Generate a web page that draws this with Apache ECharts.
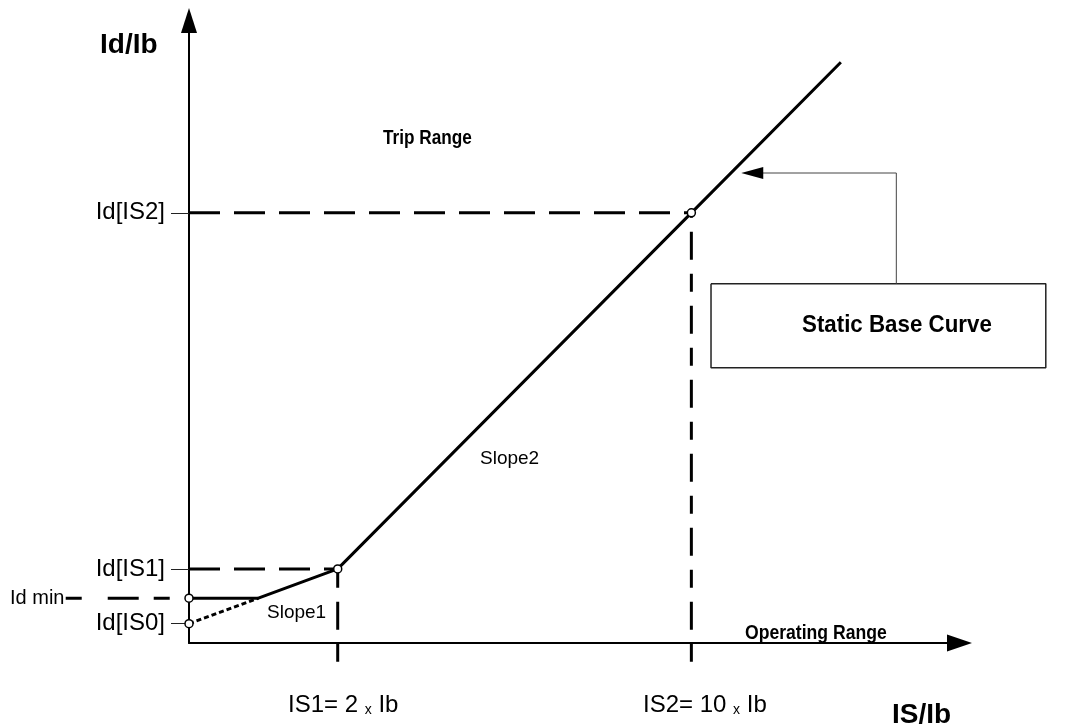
<!DOCTYPE html>
<html><head><meta charset="utf-8">
<script src="https://cdn.jsdelivr.net/npm/echarts@6/dist/echarts.min.js"></script>
<style>html,body{margin:0;padding:0;background:#fff}#c{width:1071px;height:726px}</style>
</head><body><div id="c"></div>
<script>
const FONT = '"Liberation Sans", Arial, sans-serif';
// Schematic values (linear schematic units along IS/Ib and Id/Ib)
const isPoints = [19.3, 65.2];                 // IS1, IS2
const isLabels = ['IS1= 2 ', 'IS2= 10 '];
const idLevels = [3.1, 11.9, 69.1];            // Id[IS0], Id[IS1], Id[IS2]
const idLabels = ['Id[IS0]', 'Id[IS1]', 'Id[IS2]'];
const idMin = 7.2;
const curveX = [0, 9.0, 19.3, 65.2, 84.6];     // static base curve
const curveY = [7.2, 7.2, 11.9, 69.1, 93.3];
const extX = [0, 9.0];                          // slope1 extension (dotted)
const extY = [3.1, 7.2];
const idMinLeadX = [-16, 0];
const dropBottom = -3;
const boxX = [67.75, 111.2];
const boxY = [44.2, 57.7];
const pointerX = [91.8, 91.8, 73.1];
const pointerY = [57.7, 75.5, 75.5];

// axis ranges: visible axes and an identical-scale overlay with a wider range
const X0 = [0, 100], Y0 = [0, 100];
const X1 = [-20, 112], Y1 = [-5, 100];
const PX = {left:189, width:770.5, bottom:643, height:622.5};
const kx = PX.width / (X0[1] - X0[0]), ky = PX.height / (Y0[1] - Y0[0]);
const g1 = {
  left: PX.left + (X1[0] - X0[0]) * kx,
  right: 1071 - (PX.left + (X1[1] - X0[0]) * kx),
  top: PX.bottom - (Y1[1] - Y0[0]) * ky,
  bottom: 726 - (PX.bottom - (Y1[0] - Y0[0]) * ky)
};

const zip = (xs, ys) => xs.map((x, i) => [x, ys[i]]);
const black = '#000';
const series = [];
const base = {xAxisIndex:1, yAxisIndex:1, silent:true};

isPoints.forEach((xv, i) => {
  const yv = idLevels[i + 1];
  series.push(Object.assign({type:'line', data:[[0, yv],[xv, yv]], symbol:'none',
    lineStyle:{color:black, width:3, type:[31,14]}, z:2}, base));
  series.push(Object.assign({type:'line', data:[[xv, dropBottom],[xv, yv]], symbol:'none',
    lineStyle:{color:black, width:3, type:[18,14,28,14]}, z:2}, base));
});
series.push(Object.assign({type:'line', data:idMinLeadX.map(x => [x, idMin]), symbol:'none',
  lineStyle:{color:black, width:3, type:[16,26,31,15]}, z:2}, base));
series.push(Object.assign({type:'line', data:zip(extX, extY), symbol:'none',
  lineStyle:{color:black, width:3, type:[5,3]}, z:3}, base));
series.push(Object.assign({type:'line', data:zip(curveX, curveY), symbol:'none',
  lineStyle:{color:black, width:3}, z:4}, base));
series.push(Object.assign({type:'scatter',
  data:[[0, idMin],[0, idLevels[0]],[isPoints[0], idLevels[1]],[isPoints[1], idLevels[2]]],
  symbol:'circle', symbolSize:8,
  itemStyle:{color:'#fff', borderColor:black, borderWidth:1.5, opacity:1}, z:10}, base));
series.push(Object.assign({type:'line',
  data:[[boxX[0],boxY[1]],[boxX[1],boxY[1]],[boxX[1],boxY[0]],[boxX[0],boxY[0]],[boxX[0],boxY[1]]],
  symbol:'none', lineStyle:{color:'#222', width:1.5}, z:3}, base));
series.push(Object.assign({type:'line', z:3,
  data: zip(pointerX, pointerY).map((p, i) => i === pointerX.length - 1
    ? {value:p, symbol:'triangle', symbolSize:[12,22], symbolRotate:90}
    : {value:p, symbol:'none'}),
  showSymbol:true, itemStyle:{color:black, opacity:1},
  lineStyle:{color:'#444', width:1}}, base));

const txt = (text, x, y, size, bold, sx) => ({type:'text', x, y, scaleX: sx || 1, silent:true,
  style:{text, fill:'#000', font:(bold?'bold ':'') + size + 'px ' + FONT, align:'left', verticalAlign:'middle'}});
const isText = (i, x) => ({type:'text', x, y:703, silent:true,
  style:{text:'{a|' + isLabels[i] + '}{s|x}{a| Ib}', align:'left', verticalAlign:'middle',
    rich:{a:{fontSize:24, fontFamily:FONT, fill:'#000', color:'#000', lineHeight:28, verticalAlign:'bottom'},
          s:{fontSize:14, fontFamily:FONT, fill:'#000', color:'#000', lineHeight:22, verticalAlign:'bottom'}}}});

const hiddenAxis = {type:'value', show:false, splitLine:{show:false}, axisLine:{show:false},
  axisTick:{show:false}, axisLabel:{show:false}};

const option = {
  animation:false,
  backgroundColor:'#fff',
  grid:[
    {left:PX.left, right:1071 - PX.left - PX.width, top:PX.bottom - PX.height, bottom:726 - PX.bottom,
     outerBoundsMode:'none', containLabel:false},
    {left:g1.left, right:g1.right, top:g1.top, bottom:g1.bottom, outerBoundsMode:'none', containLabel:false}
  ],
  xAxis:[
    {type:'value', gridIndex:0, min:X0[0], max:X0[1], splitLine:{show:false},
     axisLine:{show:true, onZero:false, lineStyle:{color:black, width:2}, symbol:['none','triangle'], symbolSize:[17,25]},
     axisTick:{show:false}, axisLabel:{show:false}},
    Object.assign({gridIndex:1, min:X1[0], max:X1[1]}, hiddenAxis)
  ],
  yAxis:[
    {type:'value', gridIndex:0, min:Y0[0], max:Y0[1], splitLine:{show:false},
     axisLine:{show:true, onZero:false, lineStyle:{color:black, width:2}, symbol:['none','triangle'], symbolSize:[16,25]},
     axisTick:{show:true, customValues:idLevels, length:18, lineStyle:{color:'#222', width:1}},
     axisLabel:{show:true, customValues:idLevels, margin:24, fontSize:24, color:'#000', fontFamily:FONT,
       formatter: v => { const k = idLevels.findIndex(l => Math.abs(l - v) < 1e-6); return k >= 0 ? idLabels[k] : ''; }}},
    Object.assign({gridIndex:1, min:Y1[0], max:Y1[1]}, hiddenAxis)
  ],
  series,
  graphic:[
    txt('Id/Ib', 100, 45, 28, true),
    txt('IS/Ib', 892, 715, 28, true),
    txt('Trip Range', 383, 138, 20, true, 0.86),
    txt('Slope2', 480, 459, 19, false),
    txt('Slope1', 267, 613, 19, false),
    txt('Operating Range', 745, 633, 20, true, 0.88),
    txt('Static Base Curve', 802, 325, 24, true, 0.93),
    txt('Id min', 10, 598, 20, false),
    isText(0, 288),
    isText(1, 643)
  ]
};
const chart = echarts.init(document.getElementById('c'), null, {renderer:'canvas'});
chart.setOption(option);
</script></body></html>
